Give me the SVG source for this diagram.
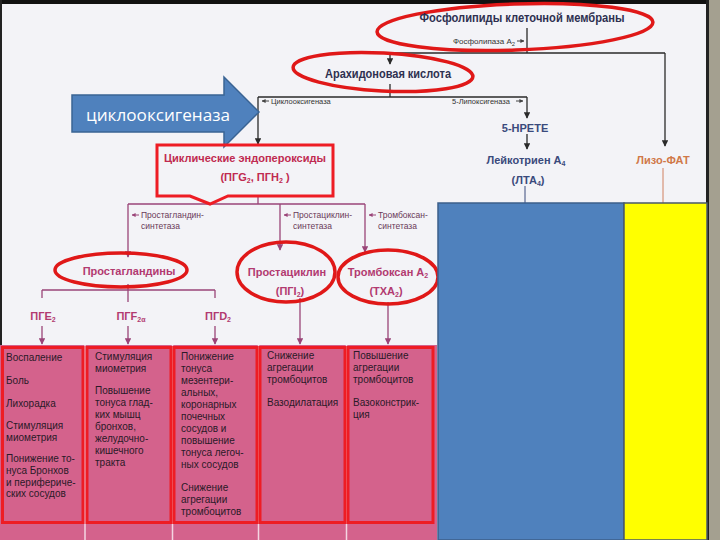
<svg xmlns="http://www.w3.org/2000/svg" width="720" height="540" viewBox="0 0 720 540">
<style>
.t{font-family:"Liberation Sans",Arial,sans-serif;font-weight:bold}
.navy{fill:#2e3050}
.blue{fill:#3a4a7c}
.pk{fill:#b23a70}
.rd{fill:#c02a50}
.sm{font-family:"Liberation Sans",Arial,sans-serif;font-size:7.5px;fill:#333}
.smp{font-family:"Liberation Sans",Arial,sans-serif;font-size:8.5px;fill:#6a3a58}
.col{font-family:"Liberation Sans",Arial,sans-serif;font-size:10px;fill:#2a1a28}
.ell{fill:none;stroke:#e01818;stroke-width:3.5}
.cd{fill:none;stroke:#2a2a2a;stroke-width:1.3}
.cp{fill:none;stroke:#9a4478;stroke-width:1.3}
.box{fill:none;stroke:#ee1c24;stroke-width:3}
</style>
<defs>
<marker id="ad" viewBox="0 0 10 10" refX="9" refY="5" markerWidth="5" markerHeight="5" orient="auto"><path d="M0,0 L10,5 L0,10 Z" fill="#2a2a2a"/></marker>
<marker id="ap" viewBox="0 0 10 10" refX="9" refY="5" markerWidth="5" markerHeight="5" orient="auto"><path d="M0,0 L10,5 L0,10 Z" fill="#9a4478"/></marker>
<marker id="as" viewBox="0 0 10 10" refX="9" refY="5" markerWidth="4" markerHeight="4" orient="auto"><path d="M0,0 L10,5 L0,10 Z" fill="#444"/></marker>
<marker id="asp" viewBox="0 0 10 10" refX="9" refY="5" markerWidth="4" markerHeight="4" orient="auto"><path d="M0,0 L10,5 L0,10 Z" fill="#9a4478"/></marker>
</defs>
<rect x="0" y="0" width="720" height="540" fill="#f3f3f7"/>
<rect x="0" y="0" width="720" height="4" fill="#111"/>
<rect x="0" y="0" width="2" height="540" fill="#222"/>
<rect x="708" y="0" width="12" height="540" fill="#a4a090"/>
<rect x="706" y="0" width="3" height="540" fill="#222"/>

<g id="connectors">
<path class="cd" d="M527 28 V53"/>
<path class="cd" d="M390 53 H665"/>
<path class="cd" d="M390 53 V64" marker-end="url(#ad)"/>
<path class="cd" d="M665 53 V146" marker-end="url(#ad)"/>
<path class="cd" d="M390 84 V97"/>
<path class="cd" d="M258 97 H527"/>
<path class="cd" d="M258 97 V144" marker-end="url(#ad)"/>
<path class="cd" d="M527 97 V118" marker-end="url(#ad)"/>
<path class="cd" d="M527 134 V149" marker-end="url(#ad)"/>
<path d="M525 186 V203" stroke="#3a4a7c" stroke-width="1"/>
<path d="M663 168 V203" stroke="#d08060" stroke-width="1"/>
<path d="M517 41 H524" stroke="#444" stroke-width="1" marker-end="url(#as)"/>
<path d="M269 101 H262" stroke="#444" stroke-width="1" marker-end="url(#as)"/>
<path d="M516 101 H523" stroke="#444" stroke-width="1" marker-end="url(#as)"/>
<path class="cp" d="M258 197 V204"/>
<path class="cp" d="M128 204 H365"/>
<path class="cp" d="M128 204 V257" marker-end="url(#ap)"/>
<path class="cp" d="M280 204 V250" marker-end="url(#ap)"/>
<path class="cp" d="M365 204 V252" marker-end="url(#ap)"/>
<path d="M139 215 H132" stroke="#9a4478" stroke-width="1" marker-end="url(#asp)"/>
<path d="M291 215 H284" stroke="#9a4478" stroke-width="1" marker-end="url(#asp)"/>
<path d="M376 215 H369" stroke="#9a4478" stroke-width="1" marker-end="url(#asp)"/>
<path class="cp" d="M128 284 V302"/>
<path class="cp" d="M42 290 H215"/>
<path class="cp" d="M42 290 V298"/>
<path class="cp" d="M215 290 V298"/>
<path class="cp" d="M42 326 V344" marker-end="url(#ap)"/>
<path class="cp" d="M128 326 V344" marker-end="url(#ap)"/>
<path class="cp" d="M215 326 V344" marker-end="url(#ap)"/>
<path class="cp" d="M300 298 V344" marker-end="url(#ap)"/>
<path class="cp" d="M388 302 V344" marker-end="url(#ap)"/>
</g>

<g id="phospholipids">
<ellipse class="ell" cx="515" cy="27" rx="138" ry="23" transform="rotate(-2 515 27)"/>
<text class="t navy" x="522" y="22" font-size="12" text-anchor="middle" textLength="205" lengthAdjust="spacingAndGlyphs">Фосфолипиды клеточной мембраны</text>
<text class="sm" x="453" y="44" textLength="62" lengthAdjust="spacingAndGlyphs">Фосфолипаза А<tspan font-size="5.5" dy="2">2</tspan></text>
</g>

<g id="arachidonic">
<ellipse class="ell" cx="383" cy="72" rx="90" ry="19" transform="rotate(3 383 72)"/>
<text class="t navy" x="388" y="78" font-size="12" text-anchor="middle" textLength="126" lengthAdjust="spacingAndGlyphs">Арахидоновая кислота</text>
</g>

<g id="cox-label">
<text class="sm" x="271" y="104">Циклооксигеназа</text>
</g>

<g id="lox-label">
<text class="sm" x="452" y="104">5-Липоксигеназа</text>
</g>

<g id="cox-arrow">
<polygon points="72,95 224,95 224,77 259,112 224,147 224,132 72,132" fill="#4f81bd" stroke="#3a6494" stroke-width="1.5"/>
<text x="86" y="121" font-family="'Open Sans','Liberation Sans',sans-serif" font-size="17" fill="#ffffff" textLength="144" lengthAdjust="spacingAndGlyphs">циклооксигеназа</text>
</g>

<g id="endoperoxides">
<path class="box" d="M157 145 H333 V196 H228 L210 204 L190 196 H157 Z"/>
<text class="t rd" x="245" y="162" font-size="11" text-anchor="middle" textLength="162" lengthAdjust="spacingAndGlyphs">Циклические эндопероксиды</text>
<text class="t rd" x="255" y="181" font-size="11" text-anchor="middle">(ПГG<tspan font-size="7" dy="2">2</tspan><tspan dy="-2">, ПГН</tspan><tspan font-size="7" dy="2">2</tspan><tspan dy="-2"> )</tspan></text>
</g>

<g id="hpete">
<text class="t blue" x="525" y="132" font-size="11" text-anchor="middle">5-НРЕТЕ</text>
</g>

<g id="leukotriene">
<text class="t blue" x="526" y="164" font-size="11" text-anchor="middle">Лейкотриен А<tspan font-size="7" dy="2">4</tspan></text>
<text class="t blue" x="528" y="184" font-size="11" text-anchor="middle">(ЛТА<tspan font-size="7" dy="2">4</tspan><tspan dy="-2">)</tspan></text>
</g>

<g id="lyso-paf">
<text class="t" x="663" y="164" font-size="11" text-anchor="middle" fill="#d07848">Лизо-ФАТ</text>
</g>

<g id="synthase-labels">
<text class="smp" x="141" y="218">Простагландин-</text>
<text class="smp" x="141" y="229">синтетаза</text>
<text class="smp" x="293" y="218">Простациклин-</text>
<text class="smp" x="293" y="229">синтетаза</text>
<text class="smp" x="378" y="218">Тромбоксан-</text>
<text class="smp" x="378" y="229">синтетаза</text>
</g>

<g id="prostaglandins">
<ellipse class="ell" cx="121" cy="270" rx="66" ry="17"/>
<text class="t pk" x="129" y="275" font-size="11" text-anchor="middle">Простагландины</text>
</g>

<g id="prostacyclin">
<ellipse class="ell" cx="286" cy="272" rx="49" ry="30"/>
<text class="t pk" x="287" y="276" font-size="11" text-anchor="middle">Простациклин</text>
<text class="t pk" x="290" y="295" font-size="11" text-anchor="middle">(ПГI<tspan font-size="7" dy="2">2</tspan><tspan dy="-2">)</tspan></text>
</g>

<g id="thromboxane">
<ellipse class="ell" cx="388" cy="277" rx="50" ry="27"/>
<text class="t pk" x="388" y="276" font-size="11" text-anchor="middle">Тромбоксан А<tspan font-size="7" dy="2">2</tspan></text>
<text class="t pk" x="386" y="295" font-size="11" text-anchor="middle">(ТХА<tspan font-size="7" dy="2">2</tspan><tspan dy="-2">)</tspan></text>
</g>

<g id="pge2"><text class="t pk" x="43" y="320" font-size="11" text-anchor="middle">ПГЕ<tspan font-size="7" dy="2">2</tspan></text></g>
<g id="pgf2a"><text class="t pk" x="131" y="320" font-size="11" text-anchor="middle">ПГF<tspan font-size="7" dy="2">2α</tspan></text></g>
<g id="pgd2"><text class="t pk" x="218" y="320" font-size="11" text-anchor="middle">ПГD<tspan font-size="7" dy="2">2</tspan></text></g>

<g id="effects-panel">
<rect x="0" y="345" width="437" height="195" fill="#d4628c"/>
<path d="M85 345 V540 M172.5 345 V540 M258.5 345 V540 M346.5 345 V540" stroke="#f4d6e2" stroke-width="1.5"/>
</g>

<g id="col-pge2">
<rect class="box" x="2.5" y="347.5" width="80.5" height="175"/>
<text class="col" x="6" y="361">Воспаление</text>
<text class="col" x="6" y="384">Боль</text>
<text class="col" x="6" y="407">Лихорадка</text>
<text class="col" x="6" y="429">Стимуляция</text>
<text class="col" x="6" y="441">миометрия</text>
<text class="col" x="6" y="462">Понижение то-</text>
<text class="col" x="6" y="474">нуса Бронхов</text>
<text class="col" x="6" y="486">и перифериче-</text>
<text class="col" x="6" y="497">ских сосудов</text>
</g>

<g id="col-pgf2a">
<rect class="box" x="87" y="347.5" width="84" height="175"/>
<text class="col" x="95" y="360">Стимуляция</text>
<text class="col" x="95" y="372">миометрия</text>
<text class="col" x="95" y="394">Повышение</text>
<text class="col" x="95" y="406">тонуса глад-</text>
<text class="col" x="95" y="418">ких мышц</text>
<text class="col" x="95" y="430">бронхов,</text>
<text class="col" x="95" y="442">желудочно-</text>
<text class="col" x="95" y="454">кишечного</text>
<text class="col" x="95" y="466">тракта</text>
</g>

<g id="col-pgd2">
<rect class="box" x="174" y="347.5" width="83" height="175"/>
<text class="col" x="181" y="360">Понижение</text>
<text class="col" x="181" y="372">тонуса</text>
<text class="col" x="181" y="384">мезентери-</text>
<text class="col" x="181" y="396">альных,</text>
<text class="col" x="181" y="408">коронарных</text>
<text class="col" x="181" y="420">почечных</text>
<text class="col" x="181" y="432">сосудов и</text>
<text class="col" x="181" y="444">повышение</text>
<text class="col" x="181" y="456">тонуса легоч-</text>
<text class="col" x="181" y="468">ных сосудов</text>
<text class="col" x="181" y="491">Снижение</text>
<text class="col" x="181" y="503">агрегации</text>
<text class="col" x="181" y="515">тромбоцитов</text>
</g>

<g id="col-pgi2">
<rect class="box" x="260" y="347.5" width="85" height="175"/>
<text class="col" x="267" y="359">Снижение</text>
<text class="col" x="267" y="371">агрегации</text>
<text class="col" x="267" y="383">тромбоцитов</text>
<text class="col" x="267" y="406">Вазодилатация</text>
</g>

<g id="col-txa2">
<rect class="box" x="348" y="347.5" width="85" height="175"/>
<text class="col" x="353" y="359">Повышение</text>
<text class="col" x="353" y="371">агрегации</text>
<text class="col" x="353" y="383">тромбоцитов</text>
<text class="col" x="353" y="406">Вазоконстрик-</text>
<text class="col" x="353" y="418">ция</text>
</g>

<g id="blue-cover">
<rect x="438" y="203" width="186" height="337" fill="#4f81bd" stroke="#3d5f8a" stroke-width="1.5"/>
</g>
<g id="yellow-cover">
<rect x="624" y="203" width="83" height="337" fill="#ffff00" stroke="#4a5a6a" stroke-width="1.5"/>
</g>
</svg>
